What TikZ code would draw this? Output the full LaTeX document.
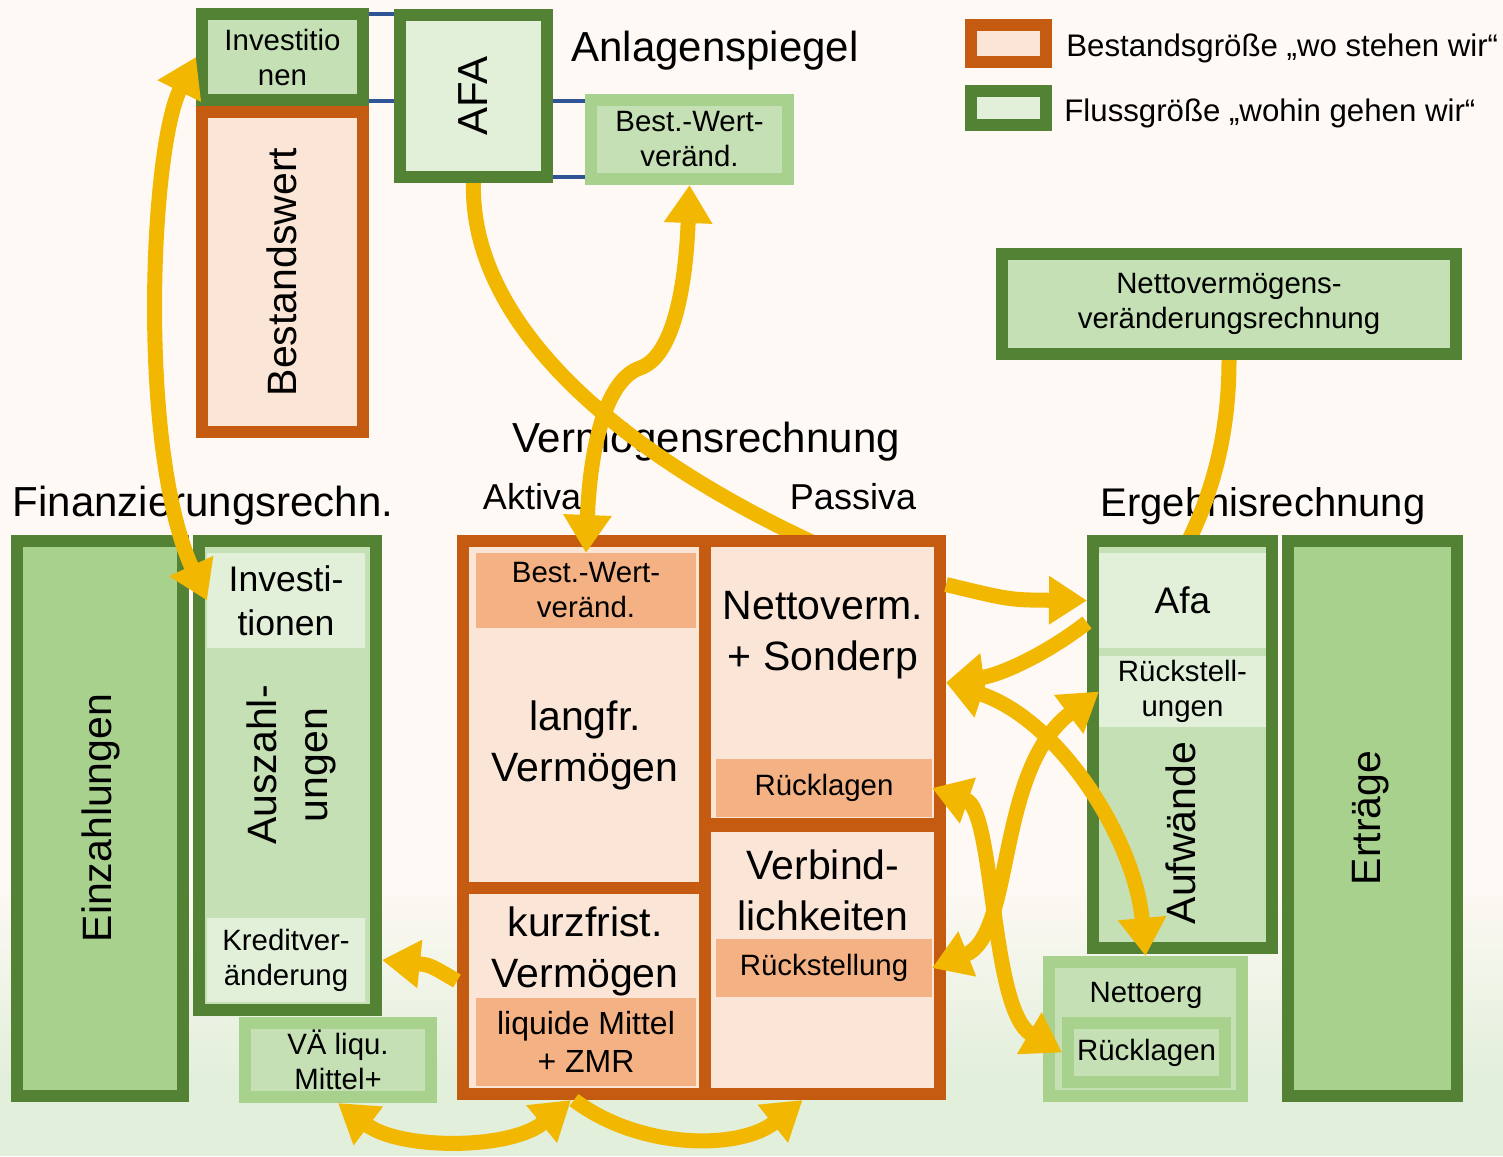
\documentclass[tikz,border=0pt]{standalone}
\usepackage{fontspec}
\setmainfont{Liberation Sans}
\usepackage{xcolor}
\usepackage{tikz}
\usetikzlibrary{positioning,calc,arrows.meta}
\definecolor{bestrand}{HTML}{C55A11}
\definecolor{bestfill}{HTML}{FBE5D6}
\definecolor{bestteil}{HTML}{F4B183}
\definecolor{flussrand}{HTML}{548235}
\definecolor{flusshell}{HTML}{E2F0D9}
\definecolor{flussmittel}{HTML}{C5E0B4}
\definecolor{flussdunkel}{HTML}{A9D18E}
\definecolor{pfeilgelb}{HTML}{F2B700}
\definecolor{linkblau}{HTML}{2F5597}
\definecolor{hgoben}{HTML}{FEF9F5}
\definecolor{hgunten}{HTML}{E2EFDA}
\pgfdeclarelayer{hinten}
\pgfdeclarelayer{unter}
\pgfsetlayers{hinten,unter,main}
\tikzset{
  kasten/.style  = {rectangle, inner sep=0pt, line width=6pt, align=center},
  bestand/.style = {kasten, draw=bestrand, fill=bestfill},
  fluss/.style   = {kasten, draw=flussrand, fill=flussmittel},
  flussdk/.style = {kasten, draw=flussrand, fill=flussdunkel},
  flusshl/.style = {kasten, draw=flussrand, fill=flusshell},
  rahmen/.style  = {kasten, draw=flussdunkel, fill=flussmittel},
  zelle/.style   = {rectangle, inner sep=0pt, outer sep=0pt, fill=bestfill, align=center},
  teil/.style    = {zelle, fill=bestteil},
  feld/.style    = {zelle, fill=flusshell},
  gross/.style   = {font=\fontsize{20.5}{25.5}\selectfont, inner sep=0pt, align=center},
  titel/.style   = {font=\fontsize{21}{25}\selectfont, inner sep=0pt},
  seite/.style   = {font=\fontsize{18}{22}\selectfont, inner sep=0pt},
  klein/.style   = {font=\fontsize{14.7}{17.5}\selectfont, align=center},
  mittel/.style  = {font=\fontsize{17.8}{22}\selectfont, align=center},
  legtext/.style = {font=\fontsize{15.6}{18}\selectfont, inner sep=0pt},
  pfeil/.style   = {draw=pfeilgelb, line width=7.5pt, -{Triangle[length=19pt,width=23pt]}},
  dpfeil/.style  = {pfeil, {Triangle[length=19pt,width=23pt]}-{Triangle[length=19pt,width=23pt]}},
  linie/.style   = {draw=pfeilgelb, line width=7.5pt},
  verbinder/.style = {draw=linkblau, line width=2pt}
}

\begin{document}
\begin{tikzpicture}[x=0.5pt, y=-0.5pt]
\useasboundingbox (0,0) rectangle (1503,1156);

\begin{pgfonlayer}{hinten}
  \fill[hgoben] (0,0) rectangle (1503,880);
  \shade[top color=hgoben, middle color=white, bottom color=hgunten] (0,880) rectangle (1503,1080);
  \fill[hgunten] (0,1080) rectangle (1503,1156);
  \node[titel] (anlage) at (715,51) {Anlagenspiegel};
  \node[titel] (vermtitel) at (706,442) {Vermögensrechnung};
  \node[seite] (aktiva) at (532,497) {Aktiva};
  \node[seite] (passiva) at (853,497) {Passiva};
  \node[titel] (fintitel) at (203,506) {Finanzierungsrechn.};
  \node[titel, font=\fontsize{20}{24}\selectfont] (ergtitel) at (1263,506) {Ergebnisrechnung};
\end{pgfonlayer}

\node[bestand, minimum width=37.5pt, minimum height=18.5pt] (lgs) at (1008.5,43.5) {};
\node[legtext, right=7pt of lgs, yshift=-2.5pt] (lgstext) {Bestandsgröße „wo stehen wir“};
\node[flusshl, minimum width=37.5pt, minimum height=17pt] (lgf) at (1008.5,108) {};
\node[legtext, right=6pt of lgf, yshift=-2.5pt] (lgftext) {Flussgröße „wohin gehen wir“};

\node[fluss, klein, minimum width=80.5pt, minimum height=43pt] (invtop) at (282.5,57) {Investitio\\nen};
\node[bestand, minimum width=80.5pt, minimum height=160pt] (bestw) at (282.5,272) {};
\node[gross, rotate=90] (bestwtext) at (282,272) {Bestandswert};
\node[flusshl, minimum width=73.5pt, minimum height=81pt] (afatop) at (473.5,96) {};
\node[titel, rotate=90] (afatext) at (473,96) {AFA};
\node[rahmen, klein, minimum width=98.5pt, minimum height=39.5pt] (bwtop) at (689.5,139.5) {Best.-Wert-\\veränd.};
\node[fluss, klein, minimum width=227pt, minimum height=50pt] (nvr) at (1229,304) {Nettovermögens-\\veränderungsrechnung};

\node[flussdk, minimum width=83pt, minimum height=277.5pt] (einz) at (100,818.5) {};
\node[gross, rotate=90] (einztext) at (101,818) {Einzahlungen};
\node[fluss, minimum width=88.5pt, minimum height=234.5pt] (aus) at (287.5,775.5) {};
\node[feld, mittel, minimum width=79pt, minimum height=47.5pt] (invsub) at (286,600.5) {Investi-\\tionen};
\node[gross, rotate=90] (austext) at (291,765) {Auszahl-\\ungen};
\node[feld, klein, minimum width=79pt, minimum height=42pt] (kred) at (286,960) {Kreditver-\\änderung};
\node[rahmen, klein, minimum width=93pt, minimum height=37pt] (vael) at (338,1060) {VÄ liqu.\\Mittel+};

\node[kasten, draw=bestrand, fill=bestrand, minimum width=238.5pt, minimum height=276.5pt] (verm) at (701.5,817.5) {};
\node[zelle, minimum width=115pt, minimum height=167.5pt] (langfr) at (584,714.5) {};
\node[zelle, minimum width=115pt, minimum height=97pt] (kurz) at (584,991) {};
\node[zelle, minimum width=111.5pt, minimum height=135.5pt] (nettov) at (822.5,682.5) {};
\node[zelle, minimum width=111.5pt, minimum height=128pt] (verb) at (822.5,960) {};
\node[teil, klein, minimum width=110pt, minimum height=37.5pt] (bwsub) at (586,590.5) {Best.-Wert-\\veränd.};
\node[gross] (langfrtext) at (585,745) {langfr.\\Vermögen};
\node[gross] (kurztext) at (585,951) {kurzfrist.\\Vermögen};
\node[teil, font=\fontsize{16}{19}\selectfont, minimum width=110pt, minimum height=44pt] (liq) at (586,1042) {liquide Mittel\\+ ZMR};
\node[gross] (nettovtext) at (823,635) {Nettoverm.\\+ Sonderp};
\node[teil, klein, minimum width=108pt, minimum height=29pt] (rueck) at (824,788) {Rücklagen};
\node[gross] (verbtext) at (823,890) {Verbind-\\lichkeiten};
\node[teil, klein, minimum width=108pt, minimum height=29pt] (rst) at (824,968) {Rückstellung};

\node[fluss, minimum width=89.5pt, minimum height=203.5pt] (aufw) at (1182.5,744.5) {};
\node[feld, font=\fontsize{18.5}{22}\selectfont, minimum width=83.5pt, minimum height=47.5pt] (afa) at (1182.5,600.5) {Afa};
\node[feld, klein, minimum width=83.5pt, minimum height=35.5pt] (rstu) at (1182.5,691.5) {Rückstell-\\ungen};
\node[gross, rotate=90] (aufwtext) at (1181,833) {Aufwände};
\node[flussdk, minimum width=84.5pt, minimum height=277.5pt] (ertr) at (1372.5,818.5) {};
\node[gross, rotate=90] (ertrtext) at (1371,818) {Erträge};
\node[rahmen, minimum width=96.5pt, minimum height=67pt] (nerg) at (1145.5,1029) {};
\node[klein, inner sep=0pt] (nergtext) at (1146,995) {Nettoerg};
\node[rahmen, klein, minimum width=78.5pt, minimum height=29.5pt] (nrl) at (1146.5,1052.5) {Rücklagen};

\draw[verbinder] ($(invtop.north east)+(0,6)$) -- ($(afatop.north west)+(0,5)$);
\draw[verbinder] ($(invtop.south east)+(0,-5)$) -- ($(afatop.west)+(0,5)$);
\draw[verbinder] ($(afatop.east)+(0,5)$) -- ($(bwtop.north west)+(0,7)$);
\draw[verbinder] ($(afatop.south east)+(0,-6)$) -- ($(bwtop.south west)+(0,-8)$);

\begin{pgfonlayer}{unter}
  \draw[linie] (afatop.south) .. controls (470,320) and (610,450) .. (nettov.north);
  \draw[linie] (nvr.south) .. controls (1229,440) and (1210,500) .. (afa.north);
\end{pgfonlayer}

\draw[dpfeil] (invtop.west) .. controls (150,150) and (138,450) .. (invsub.west);
\draw[dpfeil] (bwsub.north) .. controls (590,450) and (605,380) .. (640,368) .. controls (675,356) and (686,280) .. (bwtop.south);
\draw[pfeil] ($(verm.east)+(0,-233)$) .. controls (1010,600) .. (aufw.west |- afa.west);
\draw[pfeil] ($(aufw.west |- afa.west)+(0,22)$) .. controls (1045,655) and (1000,675) .. (verm.east |- nettov.east);
\draw[dpfeil] (verm.east |- nettov.east) .. controls (1060,720) and (1135,840) .. (nerg.north);
\draw[dpfeil] (rueck.east) .. controls (995,810) and (990,1010) .. (nrl.west);
\draw[dpfeil] (rst.east) .. controls (1015,935) and (995,770) .. (rstu.west);
\draw[pfeil] ($(verm.west |- kurz.west)+(0,-10)$) .. controls (430,965) .. (aus.east |- kred.east);
\draw[dpfeil] (vael.south) .. controls (400,1150) and (510,1150) .. ($(liq.south |- verm.south)+(-15,0)$);
\draw[pfeil] ($(liq.south |- verm.south)+(-12,0)$) .. controls (640,1150) and (740,1150) .. ($(verb.south |- verm.south)+(-20,0)$);
\end{tikzpicture}
\end{document}
